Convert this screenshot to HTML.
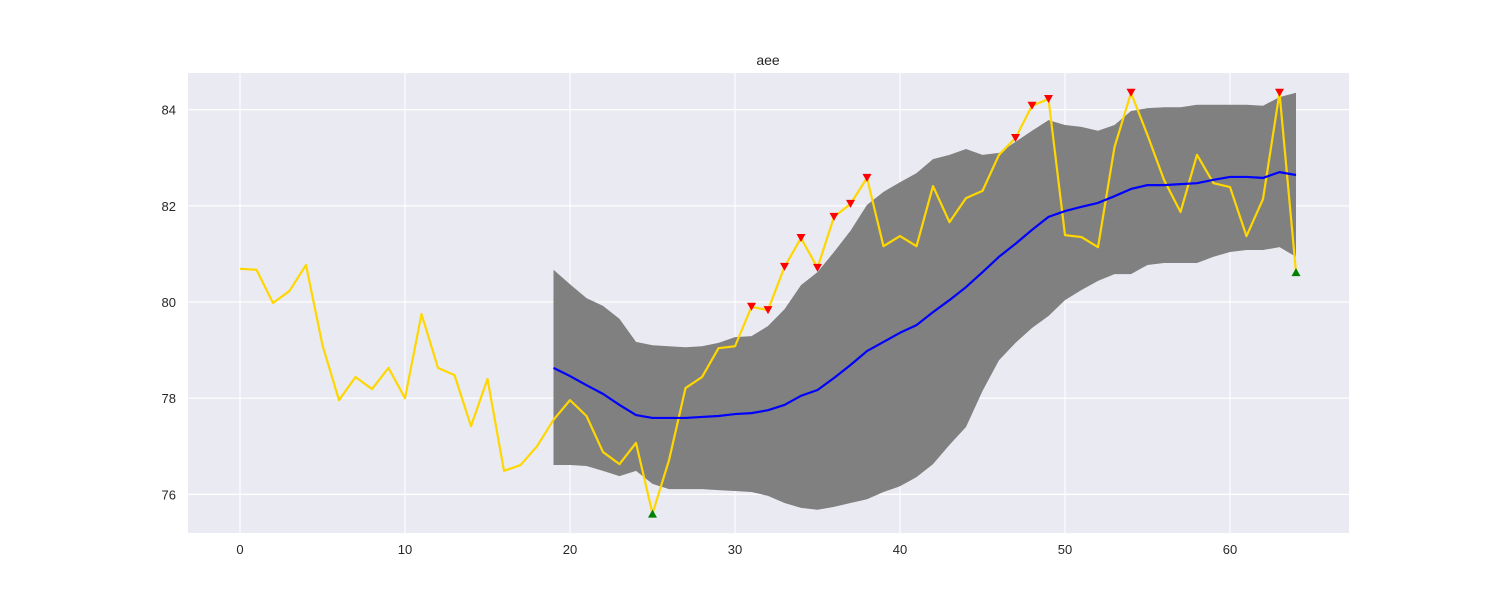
<!DOCTYPE html>
<html><head><meta charset="utf-8"><style>
html,body{margin:0;padding:0;background:#fff;}
svg{display:block;font-family:"Liberation Sans","DejaVu Sans",sans-serif;}
</style></head><body>
<svg id="chart" width="1500" height="600" xmlns="http://www.w3.org/2000/svg">
<rect x="188" y="73" width="1161" height="460" fill="#eaeaf2"/>
<g id="grid"></g>
<g id="marks"></g>
<g id="ticks"></g>
<text x="768" y="65" text-anchor="middle" font-size="14" fill="#262626">aee</text>
</svg>
<script>
const xTicks=[0,10,20,30,40,50,60];
const yTicks=[76,78,80,82,84];
const price=[80.69,80.67,79.98,80.23,80.77,79.1,77.96,78.44,78.19,78.63,78.0,79.75,78.63,78.48,77.42,78.4,76.49,76.61,77.0,77.55,77.96,77.63,76.88,76.63,77.07,75.6,76.71,78.21,78.44,79.04,79.08,79.9,79.83,80.73,81.33,80.71,81.77,82.04,82.58,81.16,81.37,81.16,82.41,81.66,82.16,82.31,83.06,83.41,84.08,84.22,81.39,81.35,81.14,83.22,84.35,83.47,82.54,81.87,83.06,82.47,82.39,81.37,82.14,84.35,80.62];
const maStart=19;
const ma=[78.63,78.46,78.27,78.09,77.86,77.65,77.59,77.59,77.59,77.61,77.63,77.67,77.69,77.75,77.86,78.05,78.17,78.42,78.69,78.98,79.17,79.36,79.52,79.79,80.04,80.31,80.62,80.94,81.21,81.5,81.77,81.89,81.98,82.06,82.2,82.35,82.43,82.43,82.45,82.47,82.54,82.6,82.6,82.58,82.7,82.64];
const upper=[80.67,80.37,80.08,79.92,79.65,79.17,79.1,79.08,79.06,79.08,79.15,79.27,79.29,79.5,79.85,80.35,80.62,81.04,81.48,82.02,82.29,82.49,82.68,82.97,83.06,83.18,83.06,83.1,83.33,83.56,83.78,83.68,83.64,83.56,83.68,83.97,84.03,84.05,84.05,84.1,84.1,84.1,84.1,84.08,84.26,84.35];
const lower=[76.61,76.61,76.59,76.49,76.38,76.49,76.22,76.11,76.11,76.11,76.09,76.07,76.05,75.97,75.82,75.72,75.68,75.74,75.82,75.9,76.05,76.17,76.36,76.63,77.03,77.4,78.15,78.79,79.15,79.46,79.71,80.04,80.25,80.44,80.58,80.58,80.77,80.81,80.81,80.81,80.94,81.04,81.08,81.08,81.14,80.94];
const sellIdx=[31,32,33,34,35,36,37,38,47,48,49,54,63];
const buyIdx=[25,64];

const X=v=>240+16.5*v;
const Y=v=>302-(v-80)*48.1;
const NS="http://www.w3.org/2000/svg";
function mk(tag,parent,attrs){const e=document.createElementNS(NS,tag);for(const k in attrs)e.setAttribute(k,attrs[k]);parent.appendChild(e);return e;}
const grid=document.getElementById('grid'),marks=document.getElementById('marks'),ticks=document.getElementById('ticks');
xTicks.forEach(t=>{
 const l=mk('line',grid,{x1:X(t),x2:X(t),y1:73,y2:533,stroke:'#fff','stroke-width':1.2});
 
 
 const tx=mk('text',ticks,{x:X(t),y:554,'text-anchor':'middle','font-size':13,fill:'#262626'});
 tx.textContent=t;
 
 
});
yTicks.forEach(t=>{
 const l=mk('line',grid,{x1:188,x2:1349,y1:Y(t),y2:Y(t),stroke:'#fff','stroke-width':1.2});
 
 
 const tx=mk('text',ticks,{x:176,y:Y(t)+5,'text-anchor':'end','font-size':13,fill:'#262626'});
 tx.textContent=t;
 
 
});
let bp=upper.map((v,i)=>X(maStart+i)+','+Y(v));
for(let i=lower.length-1;i>=0;i--)bp.push(X(maStart+i)+','+Y(lower[i]));
const band=mk('polygon',marks,{points:bp.join(' '),fill:'#808080'});


const pl=mk('polyline',marks,{points:price.map((v,i)=>X(i)+','+Y(v)).join(' '),fill:'none',stroke:'#ffd700','stroke-width':2.2,'stroke-linejoin':'round'});


const ml=mk('polyline',marks,{points:ma.map((v,i)=>X(maStart+i)+','+Y(v)).join(' '),fill:'none',stroke:'#0000ff','stroke-width':2.2,'stroke-linejoin':'round'});


sellIdx.forEach(i=>{
 const x=X(i),y=Y(price[i]);
 const m=mk('polygon',marks,{points:`${x-4.5},${y-4} ${x+4.5},${y-4} ${x},${y+4}`,fill:'#ff0000'});
 
 
});
buyIdx.forEach(i=>{
 const x=X(i),y=Y(price[i]);
 const m=mk('polygon',marks,{points:`${x-4.5},${y+4} ${x+4.5},${y+4} ${x},${y-4}`,fill:'#008000'});
 
 
});
</script>
</body></html>
